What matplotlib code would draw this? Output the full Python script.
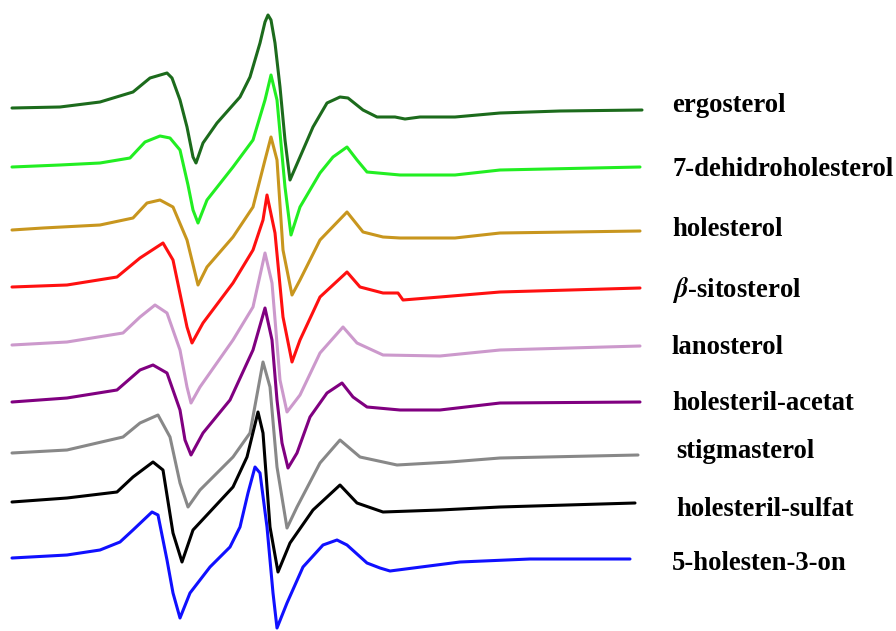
import matplotlib
matplotlib.use("Agg")
import matplotlib.pyplot as plt

# Stacked EPR spectra (in picture pixel units)
labels = ["ergosterol", "7-dehidroholesterol", "holesterol", r"$\boldsymbol{\beta}$-sitosterol",
          "lanosterol", "holesteril-acetat", "stigmasterol", "holesteril-sulfat", "5-holesten-3-on"]
colors = ["#1c6b1c", "#22ee22", "#c8961e", "#ff1010", "#cc99cc", "#800080", "#888888", "#000000", "#1010ff"]

ergosterol_x = [12, 60, 100, 133, 150, 167, 172, 180, 187, 193, 196, 203, 217, 240, 250, 260, 265, 268, 271, 275, 280, 285, 290, 300, 313, 327, 340, 348, 363, 377, 395, 405, 420, 455, 500, 560, 642]
ergosterol_y = [108, 107, 102, 92, 78, 73, 78, 100, 127, 157, 163, 143, 123, 97, 77, 43, 22, 15, 20, 43, 87, 140, 180, 157, 127, 103, 97, 98, 110, 117, 117, 119, 117, 117, 113, 111, 110]

dehidro_x = [12, 60, 100, 130, 145, 160, 170, 180, 188, 193, 198, 207, 233, 253, 265, 271, 277, 285, 291, 300, 320, 333, 347, 357, 367, 400, 455, 500, 640]
dehidro_y = [167, 165, 163, 158, 142, 136, 138, 150, 185, 210, 223, 200, 167, 140, 100, 75, 100, 187, 235, 207, 173, 157, 147, 160, 172, 175, 175, 170, 167]

holesterol_x = [12, 43, 100, 133, 147, 160, 173, 187, 198, 207, 233, 253, 265, 271, 277, 283, 292, 300, 320, 347, 363, 383, 400, 455, 500, 640]
holesterol_y = [230, 228, 225, 218, 203, 200, 207, 240, 285, 267, 237, 207, 160, 137, 160, 250, 295, 280, 240, 212, 232, 237, 238, 238, 233, 231]

sitosterol_x = [12, 67, 117, 140, 163, 173, 187, 192, 203, 233, 253, 263, 267, 275, 283, 292, 300, 320, 347, 360, 383, 398, 403, 440, 500, 640]
sitosterol_y = [287, 285, 277, 258, 243, 260, 327, 343, 323, 283, 250, 220, 195, 233, 317, 362, 340, 297, 272, 287, 293, 293, 300, 297, 292, 288]

lanosterol_x = [12, 67, 123, 140, 155, 167, 180, 187, 191, 200, 233, 253, 265, 272, 280, 287, 300, 320, 343, 357, 383, 440, 500, 640]
lanosterol_y = [345, 342, 333, 317, 305, 313, 350, 387, 403, 387, 340, 307, 253, 283, 380, 412, 395, 353, 327, 343, 355, 356, 350, 346]

acetat_x = [12, 67, 117, 140, 153, 167, 180, 185, 191, 203, 230, 253, 265, 272, 277, 282, 288, 297, 310, 327, 342, 353, 367, 400, 440, 500, 640]
acetat_y = [402, 398, 390, 370, 365, 373, 410, 440, 455, 433, 400, 350, 308, 340, 400, 443, 468, 453, 417, 393, 383, 397, 407, 410, 410, 403, 402]

stigmasterol_x = [12, 67, 123, 140, 158, 170, 180, 188, 200, 233, 250, 263, 270, 277, 287, 297, 320, 340, 360, 397, 450, 500, 638]
stigmasterol_y = [453, 450, 437, 423, 415, 437, 483, 507, 490, 457, 433, 362, 387, 467, 528, 507, 463, 440, 457, 465, 462, 458, 455]

sulfat_x = [12, 67, 117, 133, 153, 163, 173, 182, 193, 233, 247, 258, 263, 270, 278, 290, 313, 340, 357, 383, 440, 500, 635]
sulfat_y = [502, 498, 492, 477, 462, 470, 533, 562, 530, 487, 457, 412, 433, 527, 572, 543, 510, 485, 503, 512, 510, 507, 503]

holesten_x = [12, 67, 100, 120, 133, 152, 158, 167, 173, 180, 190, 210, 230, 240, 248, 255, 260, 267, 273, 277, 287, 303, 323, 337, 347, 367, 380, 390, 460, 530, 630]
holesten_y = [558, 555, 550, 542, 530, 512, 515, 560, 593, 618, 593, 567, 547, 527, 493, 467, 473, 527, 593, 628, 603, 567, 545, 540, 545, 563, 568, 571, 562, 559, 559]

xs = [ergosterol_x, dehidro_x, holesterol_x, sitosterol_x, lanosterol_x, acetat_x, stigmasterol_x, sulfat_x, holesten_x]
ys = [ergosterol_y, dehidro_y, holesterol_y, sitosterol_y, lanosterol_y, acetat_y, stigmasterol_y, sulfat_y, holesten_y]

label_x = [672, 672, 672, 672, 672, 672, 676, 676, 672]
label_y = [106, 170, 230, 290, 347, 403, 452, 510, 563]

plt.rcParams['mathtext.fontset'] = 'stix'
fig = plt.figure(figsize=(8.96, 6.31), dpi=100)
ax = fig.add_axes([0, 0, 1, 1])
ax.set_xlim(0, 896)
ax.set_ylim(631, 0)
ax.axis("off")

for x, y, c in zip(xs, ys, colors):
    ax.plot(x, y, color=c, lw=2.2, solid_joinstyle="round", solid_capstyle="round")

for lx, ly, lab in zip(label_x, label_y, labels):
    ax.text(lx, ly, lab, family="Liberation Serif", fontweight="bold", fontsize=19.2,
            va="center", ha="left", color="black")

fig.savefig("out.png", dpi=100)
